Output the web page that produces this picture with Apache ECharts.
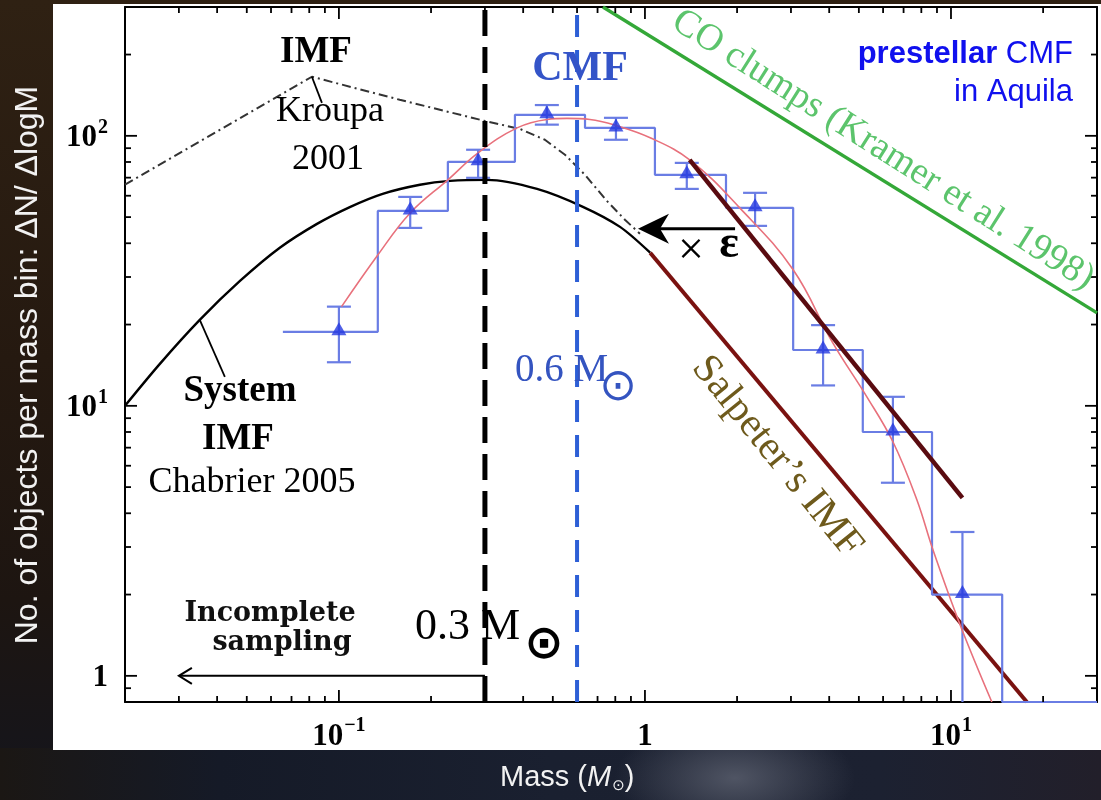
<!DOCTYPE html>
<html>
<head>
<meta charset="utf-8">
<script src="https://cdn.jsdelivr.net/npm/echarts@6/dist/echarts.min.js"></script>
<style>
  html, body { margin: 0; padding: 0; width: 1101px; height: 800px; overflow: hidden; }
  body {
    background:
      radial-gradient(ellipse 160px 60px at 740px 790px, rgba(95,100,115,0.75), rgba(95,100,115,0) 100%),
      radial-gradient(ellipse 300px 80px at 300px 800px, rgba(30,40,70,0.8), rgba(30,40,70,0) 100%),
      linear-gradient(to bottom, #2f2113 0%, #251910 45%, #1d1511 75%, #14151d 100%);
  }
  #bottomband {
    position: absolute; left: 0; top: 748px; width: 1101px; height: 52px;
    background:
      radial-gradient(ellipse 120px 60px at 735px 30px, rgba(85,90,105,0.9), rgba(85,90,105,0) 100%),
      linear-gradient(to right, #1b1714 0%, #151a27 20%, #1a2030 50%, #1c2131 80%, #221f2a 100%);
  }
  #panel { position: absolute; left: 53px; top: 4px; width: 1048px; height: 746px; background: #fff; }
  #chart { position: absolute; left: 0; top: 0; width: 1101px; height: 800px; }
</style>
</head>
<body>
<div id="bottomband"></div>
<div id="panel"></div>
<div id="chart"></div>
<script>
// Axis ranges (mass in solar masses, counts per log-mass bin)
const X_MIN = 0.02, X_MAX = 30;
const Y_MIN = 0.8, Y_MAX = 300;

// Major / minor tick positions
const xMajor = [0.1, 1, 10];
const xMinor = [0.03, 0.04, 0.05, 0.06, 0.07, 0.08, 0.09,
                0.2, 0.3, 0.4, 0.5, 0.6, 0.7, 0.8, 0.9,
                2, 3, 4, 5, 6, 7, 8, 9, 20];
const yMajor = [1, 10, 100];
const yMinor = [0.9, 2, 3, 4, 5, 6, 7, 8, 9,
                20, 30, 40, 50, 60, 70, 80, 90, 200];

// Prestellar core mass function in Aquila: histogram bins
const binEdges  = [0.0656, 0.134, 0.227, 0.376, 0.637, 1.078, 1.84, 3.05, 5.15, 8.67, 14.7];
const binCounts = [18.8, 52.7, 80.1, 119.6, 107, 71.7, 54.1, 16.1, 8.0, 2.0];
const binMass   = [0.100, 0.171, 0.285, 0.478, 0.804, 1.37, 2.29, 3.82, 6.46, 10.9];
const errHigh   = [23.3, 59.4, 88.8, 130, 116.6, 79.4, 61.5, 19.9, 10.8, 3.41];
const errLow    = [14.5, 45.6, 69.9, 110, 96.7, 63.6, 46.4, 11.9, 5.19, 0.59];

// Log-normal fit to the CMF
const fitMass = [0.102, 0.134, 0.171, 0.227, 0.285, 0.382, 0.479, 0.556, 0.661, 0.810,
                 1.04, 1.40, 2.04, 3.05, 4.11, 5.31, 6.46, 7.74, 8.73, 10.7, 13.6];
const fitN    = [23.3, 36.2, 51.8, 68.7, 86.5, 107, 115, 116, 115, 109,
                 98.4, 81.5, 54.1, 31.9, 17.1, 10.8, 7.36, 4.48, 2.93, 1.55, 0.80];

// System IMF (Chabrier 2005)
const chabMass = [0.02, 0.026, 0.0351, 0.0475, 0.0641, 0.0848, 0.109, 0.139, 0.184,
                  0.231, 0.305, 0.444, 0.627, 0.829, 1.04];
const chabN    = [10.0, 14.3, 20.8, 29.0, 38.5, 47.2, 54.6, 61.0, 65.9,
                  68.1, 68.7, 63.6, 54.6, 46.0, 36.9];

// Kroupa 2001 IMF
const kroupaMass = [0.02, 0.0816, 0.158, 0.305, 0.391, 0.471, 0.548, 0.637, 0.751, 0.860, 0.963];
const kroupaN    = [65.9, 165.5, 136, 113, 106, 96.7, 85.1, 71.7, 57.4, 48.9, 43.4];

// Salpeter power-law tail, and the same slope scaled by epsilon
const salpMass = [1.04, 17.7];
const salpN    = [36.9, 0.8];
const salpEpsMass = [1.40, 10.9];
const salpEpsN    = [81.5, 4.56];

// CO clump mass spectrum (Kramer et al. 1998)
const coMass = [0.729, 30];
const coN    = [300, 22.1];

// Completeness limit and CMF peak
const massLimit = 0.3;
const massPeak = 0.6;

// Annotation arrows: [fromMass, fromN, toMass, toN]
const arrowSampling = [[0.3, 1.0, 0.03, 1.0]];
const arrowEps = [[1.97, 45.3, 0.949, 45.3]];

// Leader lines from labels to curves
const kroupaLeader = [[0.0816, 165.5], [0.0880, 132.5]];
const chabLeader   = [[0.0351, 20.8], [0.0424, 12.8]];

const zip = (a, b) => a.map((v, i) => [v, b[i]]);

const histPts = [];
binCounts.forEach((c, i) => { histPts.push([binEdges[i], c], [binEdges[i + 1], c]); });
histPts.push([binEdges[binEdges.length - 1], Y_MIN], [X_MAX, Y_MIN]);

function powLabel(v) {
  const lg = Math.log10(v);
  const e = Math.round(lg);
  if (Math.abs(lg - e) > 1e-6) return '';
  if (e === 0) return '{n|1}';
  return '{n|10}{s|' + (e < 0 ? '\u2212' : '') + Math.abs(e) + '}';
}
const tickRich = {
  n: { fontFamily: 'Liberation Serif', fontWeight: 'bold', fontSize: 31, color: '#000', lineHeight: 36, verticalAlign: 'bottom' },
  s: { fontFamily: 'Liberation Serif', fontWeight: 'bold', fontSize: 20, color: '#000', lineHeight: 36, verticalAlign: 'top', padding: [0, 0, 0, 1] }
};

function tickSeries(values, axis, len) {
  return {
    type: 'custom', silent: true, z: 6,
    data: values.map(v => [v]),
    renderItem(params, api) {
      const cs = params.coordSys;
      const st = { stroke: '#000', lineWidth: 1.8 };
      if (axis === 'x') {
        const x = api.coord([api.value(0), Y_MIN])[0];
        const yb = cs.y + cs.height, yt = cs.y;
        return { type: 'group', children: [
          { type: 'line', shape: { x1: x, y1: yb, x2: x, y2: yb - len }, style: st },
          { type: 'line', shape: { x1: x, y1: yt, x2: x, y2: yt + len }, style: st }
        ] };
      }
      const y = api.coord([X_MIN, api.value(0)])[1];
      const xl = cs.x, xr = cs.x + cs.width;
      return { type: 'group', children: [
        { type: 'line', shape: { x1: xl, y1: y, x2: xl + len, y2: y }, style: st },
        { type: 'line', shape: { x1: xr, y1: y, x2: xr - len, y2: y }, style: st }
      ] };
    }
  };
}

function lineSeries(data, color, width, extra) {
  return Object.assign({
    type: 'line', data: data, symbol: 'none', silent: true,
    lineStyle: { color: color, width: width }, z: 3
  }, extra || {});
}

const HIST_BLUE = '#6a7de4';

const option = {
  animation: false,
  backgroundColor: 'transparent',
  grid: { left: 125, right: 4, top: 7, bottom: 98 },
  xAxis: [
    { type: 'log', logBase: 10, min: X_MIN, max: X_MAX, position: 'bottom',
      axisLine: { show: true, onZero: false, lineStyle: { color: '#000', width: 2 } },
      axisTick: { show: false }, splitLine: { show: false },
      axisLabel: { formatter: powLabel, rich: tickRich, margin: 14, showMinLabel: false, showMaxLabel: false } },
    { type: 'log', logBase: 10, min: X_MIN, max: X_MAX, position: 'top',
      axisLine: { show: true, onZero: false, lineStyle: { color: '#000', width: 2 } },
      axisTick: { show: false }, splitLine: { show: false }, axisLabel: { show: false } }
  ],
  yAxis: [
    { type: 'log', logBase: 10, min: Y_MIN, max: Y_MAX, position: 'left',
      axisLine: { show: true, onZero: false, lineStyle: { color: '#000', width: 2 } },
      axisTick: { show: false }, splitLine: { show: false },
      axisLabel: { formatter: powLabel, rich: tickRich, margin: 17, showMinLabel: false, showMaxLabel: false } },
    { type: 'log', logBase: 10, min: Y_MIN, max: Y_MAX, position: 'right',
      axisLine: { show: true, onZero: false, lineStyle: { color: '#000', width: 2 } },
      axisTick: { show: false }, splitLine: { show: false }, axisLabel: { show: false } }
  ],
  series: [
    tickSeries(xMajor, 'x', 12), tickSeries(xMinor, 'x', 6),
    tickSeries(yMajor, 'y', 12), tickSeries(yMinor, 'y', 6),

    // CO clumps
    lineSeries(zip(coMass, coN), '#34a838', 3.4, { z: 3 }),
    // Kroupa IMF
    lineSeries(zip(kroupaMass, kroupaN), '#333', 2, { lineStyle: { color: '#333', width: 2, type: [9, 4, 2, 4] } }),
    // Chabrier system IMF
    lineSeries(zip(chabMass, chabN), '#000', 2.4, { smooth: 0.3 }),
    // Salpeter tails
    lineSeries(zip(salpMass, salpN), '#7a1210', 4),
    // CMF histogram
    lineSeries(histPts, HIST_BLUE, 2.2, { z: 4 }),
    // error bars
    {
      type: 'custom', silent: true, z: 4,
      data: binMass.map((m, i) => [m, errLow[i], errHigh[i]]),
      renderItem(params, api) {
        const cs = params.coordSys;
        const hi = api.coord([api.value(0), api.value(2)]);
        const lo = api.coord([api.value(0), api.value(1)]);
        const bottom = cs.y + cs.height;
        const st = { stroke: HIST_BLUE, lineWidth: 2.2 };
        const w = 12;
        const kids = [
          { type: 'line', shape: { x1: hi[0], y1: hi[1], x2: hi[0], y2: Math.min(lo[1], bottom) }, style: st },
          { type: 'line', shape: { x1: hi[0] - w, y1: hi[1], x2: hi[0] + w, y2: hi[1] }, style: st }
        ];
        if (lo[1] < bottom) kids.push({ type: 'line', shape: { x1: lo[0] - w, y1: lo[1], x2: lo[0] + w, y2: lo[1] }, style: st });
        return { type: 'group', children: kids };
      }
    },
    // log-normal fit
    lineSeries(zip(fitMass, fitN), '#e8717c', 1.6, { smooth: 0.4, z: 5 }),
    // scaled Salpeter
    lineSeries(zip(salpEpsMass, salpEpsN), '#5a0b10', 4.5, { z: 6 }),
    // CMF points
    {
      type: 'scatter', silent: true, z: 6,
      data: zip(binMass, binCounts),
      symbol: 'triangle', symbolSize: [15, 13], symbolOffset: [0, -3],
      itemStyle: { color: '#2438e0' }
    },
    // completeness limit and peak
    lineSeries([[massLimit, Y_MIN], [massLimit, Y_MAX]], '#000', 5,
      { z: 7, lineStyle: { color: '#000', width: 5, type: [26, 11] } }),
    lineSeries([[massPeak, Y_MIN], [massPeak, Y_MAX]], '#2d5fd6', 4,
      { z: 7, lineStyle: { color: '#2d5fd6', width: 4, type: [22, 13] } }),
    // leader lines
    lineSeries(kroupaLeader, '#000', 1.8, { z: 7 }),
    lineSeries(chabLeader, '#000', 1.8, { z: 7 }),
    // incomplete-sampling arrow
    {
      type: 'custom', silent: true, z: 8, data: arrowSampling,
      renderItem(params, api) {
        const a = api.coord([api.value(0), api.value(1)]);
        const b = api.coord([api.value(2), api.value(3)]);
        const st = { stroke: '#000', lineWidth: 2, fill: null };
        return { type: 'group', children: [
          { type: 'line', shape: { x1: a[0], y1: a[1], x2: b[0] + 1, y2: b[1] }, style: st },
          { type: 'polyline', shape: { points: [[b[0] + 13, b[1] - 8], [b[0], b[1]], [b[0] + 13, b[1] + 8]] }, style: st }
        ] };
      }
    },
    // epsilon-scaling arrow
    {
      type: 'custom', silent: true, z: 8, data: arrowEps,
      renderItem(params, api) {
        const a = api.coord([api.value(0), api.value(1)]);
        const b = api.coord([api.value(2), api.value(3)]);
        return { type: 'group', children: [
          { type: 'line', shape: { x1: a[0], y1: a[1], x2: b[0] + 22, y2: b[1] }, style: { stroke: '#000', lineWidth: 3 } },
          { type: 'polygon', shape: { points: [[b[0], b[1]], [b[0] + 31, b[1] - 15], [b[0] + 22, b[1]], [b[0] + 31, b[1] + 15]] }, style: { fill: '#000' } }
        ] };
      }
    }
  ],
  graphic: [
    // axis titles
    { type: 'text', x: 28, y: 365, rotation: Math.PI / 2, z: 10,
      style: { text: 'No. of objects per mass bin: \u0394N/ \u0394logM', font: '32px "Liberation Sans"', fill: '#f2f2f2', align: 'center', verticalAlign: 'middle' } },
    { type: 'text', x: 500, y: 778, z: 10,
      style: { text: 'Mass ({i|M}{sub|\u2299})', font: '29px "Liberation Sans"', fill: '#f2f2f2', align: 'left', verticalAlign: 'middle',
        rich: { i: { font: 'italic 29px "Liberation Sans"', fill: '#f2f2f2' },
                sub: { font: '15px "DejaVu Sans"', fill: '#f2f2f2', padding: [17, 0, 0, 1] } } } },

    // Kroupa label
    { type: 'text', x: 316, y: 52, z: 10, style: { text: 'IMF', font: 'bold 37px "Liberation Serif"', fill: '#000', align: 'center', verticalAlign: 'middle' } },
    { type: 'text', x: 330, y: 112, z: 10, style: { text: 'Kroupa', font: '36px "Liberation Serif"', fill: '#000', align: 'center', verticalAlign: 'middle' } },
    { type: 'text', x: 328, y: 160, z: 10, style: { text: '2001', font: '36px "Liberation Serif"', fill: '#000', align: 'center', verticalAlign: 'middle' } },

    // CMF label
    { type: 'text', x: 580, y: 69, z: 10, style: { text: 'CMF', font: 'bold 42px "Liberation Serif"', fill: '#3454c8', align: 'center', verticalAlign: 'middle' } },
    { type: 'text', x: 1073, y: 54, z: 10, style: { text: '{b|prestellar} CMF', font: '31px "Liberation Sans"', fill: '#1010ee', align: 'right', verticalAlign: 'middle',
        rich: { b: { font: 'bold 31px "Liberation Sans"', fill: '#1010ee' } } } },
    { type: 'text', x: 1073, y: 92, z: 10, style: { text: 'in Aquila', font: '31px "Liberation Sans"', fill: '#1010ee', align: 'right', verticalAlign: 'middle' } },

    // Chabrier label
    { type: 'text', x: 240, y: 391, z: 10, style: { text: 'System', font: 'bold 37px "Liberation Serif"', fill: '#000', align: 'center', verticalAlign: 'middle' } },
    { type: 'text', x: 238, y: 439, z: 10, style: { text: 'IMF', font: 'bold 37px "Liberation Serif"', fill: '#000', align: 'center', verticalAlign: 'middle' } },
    { type: 'text', x: 252, y: 483, z: 10, style: { text: 'Chabrier 2005', font: '36px "Liberation Serif"', fill: '#000', align: 'center', verticalAlign: 'middle' } },

    // incomplete sampling
    { type: 'text', x: 270, y: 614, z: 10, style: { text: 'Incomplete', font: 'bold 27px "DejaVu Serif"', fill: '#111', align: 'center', verticalAlign: 'middle' } },
    { type: 'text', x: 282, y: 643, z: 10, style: { text: 'sampling', font: 'bold 27px "DejaVu Serif"', fill: '#111', align: 'center', verticalAlign: 'middle' } },

    // mass thresholds
    { type: 'text', x: 415, y: 627, z: 10, style: { text: '0.3 M', font: '44px "Liberation Serif"', fill: '#000', align: 'left', verticalAlign: 'middle' } },
    { type: 'text', x: 544, y: 646, z: 10, style: { text: '\u2299', font: 'bold 47px "DejaVu Sans"', fill: '#000', align: 'center', verticalAlign: 'middle' } },
    { type: 'text', x: 515, y: 371, z: 10, style: { text: '0.6 M', font: '39px "Liberation Serif"', fill: '#3454c0', align: 'left', verticalAlign: 'middle' } },
    { type: 'text', x: 618, y: 388, z: 10, style: { text: '\u2299', font: '45px "DejaVu Sans"', fill: '#3454c0', align: 'center', verticalAlign: 'middle' } },

    // epsilon factor
    { type: 'text', x: 691, y: 252, z: 10, style: { text: '\u00d7', font: '46px "Liberation Serif"', fill: '#000', align: 'center', verticalAlign: 'middle' } },
    { type: 'text', x: 729, y: 245, z: 10, style: { text: '\u03b5', font: 'bold 46px "Liberation Serif"', fill: '#000', align: 'center', verticalAlign: 'middle' } },

    // rotated curve labels
    { type: 'text', x: 883, y: 150, rotation: -0.565, z: 10,
      style: { text: 'CO clumps (Kramer et al. 1998)', font: '38px "Liberation Serif"', fill: '#5cc46c', align: 'center', verticalAlign: 'middle' } },
    { type: 'text', x: 777, y: 457, rotation: -0.89, z: 10,
      style: { text: 'Salpeter\u2019s IMF', font: '41px "Liberation Serif"', fill: '#6e5a1c', align: 'center', verticalAlign: 'middle' } }
  ]
};

const chart = echarts.init(document.getElementById('chart'), null, { renderer: 'canvas' });
chart.setOption(option);
</script>
</body>
</html>
